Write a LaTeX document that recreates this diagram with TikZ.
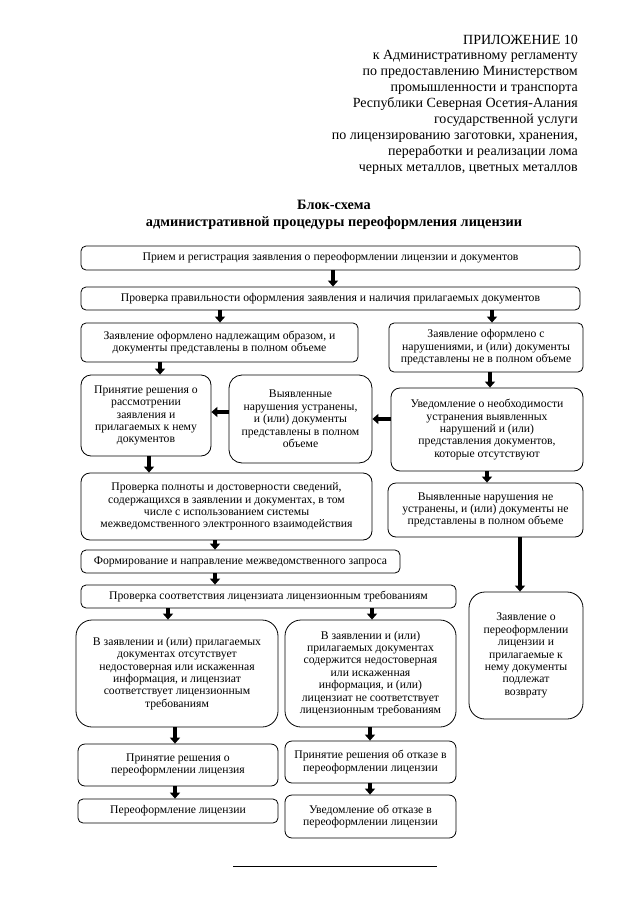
\documentclass[tikz,border=0pt]{standalone}
\usepackage{fontspec}
\setmainfont{Liberation Serif}
\usetikzlibrary{arrows.meta}
\begin{document}
\begin{tikzpicture}[x=1pt,y=-1pt,
  box/.style={draw, line width=0.8pt, rounded corners=5pt, align=center, inner sep=0pt,
    font=\fontsize{11.7}{12.4}\selectfont},
  bigbox/.style={box, rounded corners=13pt},
  arr/.style={line width=3.6pt, -{Triangle[length=6pt,width=10pt]}},
  hdr/.style={anchor=base east, inner sep=0pt, font=\fontsize{14}{16}\selectfont},
  ttl/.style={anchor=base, inner sep=0pt, font=\fontsize{14.3}{16}\selectfont\bfseries}]
\useasboundingbox (0,0) rectangle (640,905);
\fill[white] (0,0) rectangle (640,905);
% header
\node[hdr] (h1) at (578,44) {ПРИЛОЖЕНИЕ 10};
\node[hdr] (h2) at (578,59.9) {к Административному регламенту};
\node[hdr] (h3) at (578,75.8) {по предоставлению Министерством};
\node[hdr] (h4) at (578,91.7) {промышленности и транспорта};
\node[hdr] (h5) at (578,107.6) {Республики Северная Осетия-Алания};
\node[hdr] (h6) at (578,123.5) {государственной услуги};
\node[hdr] (h7) at (578,139.4) {по лицензированию заготовки, хранения,};
\node[hdr] (h8) at (578,155.3) {переработки и реализации лома};
\node[hdr] (h9) at (578,171.2) {черных металлов, цветных металлов};
% title
\node[ttl] (t1) at (334,209.5) {Блок-схема};
\node[ttl] (t2) at (334,226) {административной процедуры переоформления лицензии};
% boxes
\node[box, minimum width=499, minimum height=24] (b1) at (330.5,258) {Прием и регистрация заявления о переоформлении лицензии и документов};
\node[box, minimum width=499, minimum height=23] (b2) at (330.5,298.5) {Проверка правильности оформления заявления и наличия прилагаемых документов};
\node[box, minimum width=277, minimum height=39] (b3L) at (219.5,342.5) {Заявление оформлено надлежащим образом, и\\документы представлены в полном объеме};
\node[box, minimum width=194, minimum height=49] (b3R) at (486,347.5) {Заявление оформлено с\\нарушениями, и (или) документы\\представлены не в полном объеме};
\node[box, rounded corners=10pt, minimum width=130, minimum height=81] (b4L) at (146,415.5) {Принятие решения о\\рассмотрении\\заявления и\\прилагаемых к нему\\документов};
\node[bigbox, minimum width=143, minimum height=88] (b4M) at (300.5,419) {Выявленные\\нарушения устранены,\\и (или) документы\\представлены в полном\\объеме};
\node[box, rounded corners=9pt, minimum width=192, minimum height=83] (b4R) at (487,429.5) {Уведомление о необходимости\\устранения выявленных\\нарушений и (или)\\представления документов,\\которые отсутствуют};
\node[box, rounded corners=9pt, minimum width=291, minimum height=67] (b5L) at (226.5,506.5) {Проверка полноты и достоверности сведений,\\содержащихся в заявлении и документах, в том\\числе с использованием системы\\межведомственного электронного взаимодействия};
\node[box, rounded corners=8pt, minimum width=195, minimum height=54] (b5R) at (485.5,510) {Выявленные нарушения не\\устранены, и (или) документы не\\представлены в полном объеме};
\node[box, minimum width=319, minimum height=23] (b6) at (240.5,561.5) {Формирование и направление межведомственного запроса};
\node[box, minimum width=375, minimum height=23] (b7) at (268.5,596.5) {Проверка соответствия лицензиата лицензионным требованиям};
\node[bigbox, rounded corners=16pt, minimum width=114, minimum height=127] (bR) at (526,655.5) {Заявление о\\переоформлении\\лицензии и\\прилагаемые к\\нему документы\\подлежат\\возврату};
\node[bigbox, rounded corners=16pt, minimum width=202, minimum height=107] (b8L) at (177,673.5) {В заявлении и (или) прилагаемых\\документах отсутствует\\недостоверная или искаженная\\информация, и лицензиат\\соответствует лицензионным\\требованиям};
\node[bigbox, rounded corners=16pt, minimum width=171, minimum height=107] (b8R) at (370.5,673.5) {В заявлении и (или)\\прилагаемых документах\\содержится недостоверная\\или искаженная\\информация, и (или)\\лицензиат не соответствует\\лицензионным требованиям};
\node[box, rounded corners=7pt, minimum width=200, minimum height=42] (b9L) at (178,765) {Принятие решения о\\переоформлении лицензия};
\node[box, rounded corners=7pt, minimum width=171, minimum height=42] (b9R) at (370.5,762) {Принятие решения об отказе в\\переоформлении лицензии};
\node[box, minimum width=200, minimum height=24] (b10L) at (178,811) {Переоформление лицензии};
\node[box, rounded corners=7pt, minimum width=171, minimum height=43] (b10R) at (370.5,816.5) {Уведомление об отказе в\\переоформлении лицензии};
% arrows
\draw[arr] (b1.south -| 333,0) -- (b2.north -| 333,0);
\draw[arr] (b2.south -| 220,0) -- (b3L.north -| 220,0);
\draw[arr] (b2.south -| 492,0) -- (b3R.north -| 492,0);
\draw[arr] (b3L.south -| 160,0) -- (b4L.north -| 160,0);
\draw[arr] (b3R.south -| 490,0) -- (b4R.north -| 490,0);
\draw[arr] (b4M.west |- 0,412) -- (b4L.east |- 0,412);
\draw[arr] (b4R.west |- 0,419) -- (b4M.east |- 0,419);
\draw[arr] (b4L.south -| 149,0) -- (b5L.north -| 149,0);
\draw[arr] (b4R.south -| 487,0) -- (b5R.north -| 487,0);
\draw[arr] (b5L.south -| 215,0) -- (b6.north -| 215,0);
\draw[arr] (b6.south -| 215,0) -- (b7.north -| 215,0);
\draw[arr] (b5R.south -| 520,0) -- (bR.north -| 520,0);
\draw[arr] (b7.south -| 168,0) -- (b8L.north -| 168,0);
\draw[arr] (b7.south -| 372,0) -- (b8R.north -| 372,0);
\draw[arr] (b8L.south -| 175,0) -- (b9L.north -| 175,0);
\draw[arr] (b8R.south -| 370,0) -- (b9R.north -| 370,0);
\draw[arr] (b9L.south -| 175,0) -- (b10L.north -| 175,0);
\draw[arr] (b9R.south -| 370,0) -- (b10R.north -| 370,0);
% footer rule
\coordinate (f1) at (233,866);
\coordinate (f2) at (437,866);
\draw[line width=0.9pt] (f1) -- (f2);
\end{tikzpicture}
\end{document}
